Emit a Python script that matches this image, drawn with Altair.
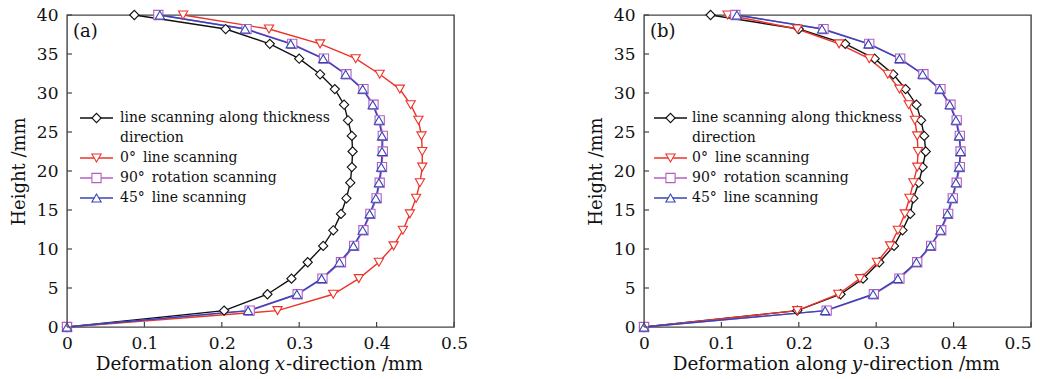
import altair as alt
import pandas as pd

# Heights along the build direction (mm)
HEIGHTS = [0, 2.1, 4.2, 6.2, 8.3, 10.4, 12.4, 14.5, 16.5, 18.5, 20.5,
           22.5, 24.5, 26.5, 28.5, 30.5, 32.4, 34.4, 36.3, 38.2, 40]

SERIES = ["line scanning along thickness direction", "0° line scanning",
          "90° rotation scanning", "45° line scanning"]

# (a) deformation along x-direction (mm)
A_THICK = [0, 0.203, 0.259, 0.290, 0.311, 0.331, 0.344, 0.354, 0.361, 0.366, 0.368,
           0.369, 0.368, 0.363, 0.358, 0.346, 0.327, 0.300, 0.262, 0.205, 0.087]
A_ZERO = [0, 0.272, 0.344, 0.377, 0.403, 0.422, 0.434, 0.443, 0.451, 0.456, 0.459,
          0.459, 0.458, 0.454, 0.444, 0.430, 0.404, 0.373, 0.327, 0.261, 0.150]
A_NINETY = [0, 0.236, 0.298, 0.330, 0.354, 0.371, 0.383, 0.392, 0.400, 0.404, 0.407,
            0.408, 0.408, 0.404, 0.396, 0.383, 0.361, 0.332, 0.291, 0.232, 0.118]
A_FORTYFIVE = [0, 0.234, 0.297, 0.329, 0.352, 0.370, 0.382, 0.391, 0.399, 0.403, 0.406,
               0.407, 0.407, 0.403, 0.395, 0.382, 0.360, 0.331, 0.289, 0.230, 0.120]

# (b) deformation along y-direction (mm)
B_THICK = [0, 0.198, 0.254, 0.283, 0.304, 0.323, 0.334, 0.344, 0.348, 0.355, 0.360,
           0.364, 0.362, 0.358, 0.352, 0.338, 0.322, 0.298, 0.260, 0.200, 0.086]
B_ZERO = [0, 0.198, 0.251, 0.279, 0.301, 0.318, 0.328, 0.337, 0.343, 0.348, 0.353,
          0.354, 0.353, 0.350, 0.342, 0.330, 0.315, 0.291, 0.252, 0.198, 0.108]
B_NINETY = [0, 0.236, 0.297, 0.330, 0.353, 0.371, 0.384, 0.393, 0.399, 0.404, 0.408,
            0.409, 0.408, 0.404, 0.396, 0.383, 0.361, 0.331, 0.291, 0.232, 0.118]
B_FORTYFIVE = [0, 0.234, 0.296, 0.328, 0.352, 0.370, 0.383, 0.392, 0.398, 0.403, 0.407,
               0.409, 0.407, 0.403, 0.395, 0.382, 0.360, 0.330, 0.290, 0.230, 0.120]

X_TICKS = [0, 0.1, 0.2, 0.3, 0.4, 0.5]
Y_TICKS = [0, 5, 10, 15, 20, 25, 30, 35, 40]

LEGEND_LINES = [["line scanning along thickness", "direction"],
                ["0°\u2002line scanning"],
                ["90°\u2002rotation scanning"],
                ["45°\u2002line scanning"]]

COLORS = ["#111111", "#ec3328", "#b45cc4", "#3446b4"]
SHAPES = ["diamond", "triangle-down", "square", "triangle-up"]
WIDTHS = [1.4, 1.4, 1.4, 2.6]

FONT = "DejaVu Serif"
FRAME = "#444444"
W, H = 387, 312

color_scale = alt.Scale(domain=SERIES, range=COLORS)
shape_scale = alt.Scale(domain=SERIES, range=SHAPES)
width_scale = alt.Scale(domain=SERIES, range=WIDTHS)


def long_table(columns):
    rows = []
    for name, xs in zip(SERIES, columns):
        for h, d in zip(HEIGHTS, xs):
            rows.append({"series": name, "d": d, "h": h})
    return pd.DataFrame(rows)


def legend_tables():
    sym, txt = [], []
    row = 0
    for name, lines in zip(SERIES, LEGEND_LINES):
        sym.append({"series": name, "py": 103 + 20 * row})
        for line in lines:
            txt.append({"label": line, "py": 103 + 20 * row})
            row += 1
    return pd.DataFrame(sym), pd.DataFrame(txt)


def panel(columns, tag, letter, sym_left, text_left, last_label_align):
    xs = alt.Scale(domain=[0, 0.5], nice=False, zero=False)
    ys = alt.Scale(domain=[0, 40], nice=False, zero=False)
    data = long_table(columns)

    x_axis = alt.Axis(
        values=X_TICKS, format="~g", title=None,
        labelAlign={"condition": {"test": "datum.value >= 0.5", "value": last_label_align},
                    "value": "center"},
    )
    lines = alt.Chart(data).mark_line().encode(
        x=alt.X("d:Q", scale=xs, axis=x_axis),
        y=alt.Y("h:Q", scale=ys, axis=alt.Axis(values=Y_TICKS, title="Height /mm", labelPadding=9)),
        color=alt.Color("series:N", scale=color_scale, legend=None),
        strokeWidth=alt.StrokeWidth("series:N", scale=width_scale, legend=None),
        order=alt.Order("h:Q"),
    )
    points = alt.Chart(data).mark_point(fill="white", fillOpacity=1, size=85, strokeWidth=1.1).encode(
        x=alt.X("d:Q", scale=xs, axis=None),
        y=alt.Y("h:Q", scale=ys, axis=None),
        stroke=alt.Stroke("series:N", scale=color_scale, legend=None),
        shape=alt.Shape("series:N", scale=shape_scale, legend=None),
    )

    # inward tick marks
    xt = alt.Chart(pd.DataFrame({"v": X_TICKS})).mark_rule(color=FRAME, strokeWidth=1.2).encode(
        x=alt.X("v:Q", scale=xs, axis=None), y=alt.value(H), y2=alt.value(H - 5))
    yt = alt.Chart(pd.DataFrame({"v": Y_TICKS})).mark_rule(color=FRAME, strokeWidth=1.2).encode(
        y=alt.Y("v:Q", scale=ys, axis=None), x=alt.value(0), x2=alt.value(5))

    # legend drawn inside the plot
    sym, txt = legend_tables()
    leg_line = alt.Chart(sym).mark_rule().encode(
        y=alt.Y("py:Q", scale=None, axis=None),
        x=alt.value(sym_left), x2=alt.value(sym_left + 33),
        color=alt.Color("series:N", scale=color_scale, legend=None),
        strokeWidth=alt.StrokeWidth("series:N", scale=width_scale, legend=None),
    )
    leg_pt = alt.Chart(sym).mark_point(fill="white", fillOpacity=1, size=85, strokeWidth=1.1).encode(
        y=alt.Y("py:Q", scale=None, axis=None),
        x=alt.value(sym_left + 16.5),
        stroke=alt.Stroke("series:N", scale=color_scale, legend=None),
        shape=alt.Shape("series:N", scale=shape_scale, legend=None),
    )
    leg_txt = alt.Chart(txt).mark_text(align="left", baseline="middle", font=FONT,
                                       fontSize=14, color="#111111").encode(
        y=alt.Y("py:Q", scale=None, axis=None),
        x=alt.value(text_left),
        text="label:N",
    )

    label = alt.Chart(pd.DataFrame({"t": [tag]})).mark_text(
        align="left", baseline="middle", font=FONT, fontSize=18, color="#111111"
    ).encode(x=alt.value(6), y=alt.value(17), text="t:N")

    # x-axis title with an italic direction letter
    title_parts = alt.Chart(pd.DataFrame({
        "t": ["Deformation along", letter, "-direction /mm"],
        "px": [203, 213, 219],
        "al": ["right", "center", "left"],
    }))
    t1 = title_parts.transform_filter("datum.al == 'right'").mark_text(
        align="right", font=FONT, fontSize=18.4, color="#111111", baseline="alphabetic"
    ).encode(x=alt.X("px:Q", scale=None, axis=None), y=alt.value(H + 43), text="t:N")
    t2 = title_parts.transform_filter("datum.al == 'center'").mark_text(
        align="center", font=FONT, fontSize=18.4, fontStyle="italic", color="#111111",
        baseline="alphabetic"
    ).encode(x=alt.X("px:Q", scale=None, axis=None), y=alt.value(H + 43), text="t:N")
    t3 = title_parts.transform_filter("datum.al == 'left'").mark_text(
        align="left", font=FONT, fontSize=18.4, color="#111111", baseline="alphabetic"
    ).encode(x=alt.X("px:Q", scale=None, axis=None), y=alt.value(H + 43), text="t:N")

    return alt.layer(lines, points, xt, yt, leg_line, leg_pt, leg_txt, label, t1, t2, t3).resolve_scale(
        x="independent", y="independent"
    ).properties(width=W, height=H)


left = panel([A_THICK, A_ZERO, A_NINETY, A_FORTYFIVE], "(a)", "x", 13, 53, "center")
right = panel([B_THICK, B_ZERO, B_NINETY, B_FORTYFIVE], "(b)", "y", 10, 48, "right")

chart = alt.hconcat(left, right, spacing=117).configure(
    padding={"left": 9, "top": 5, "right": 8, "bottom": 2},
    background="white",
).configure_view(
    stroke=FRAME, strokeWidth=1.4
).configure_axis(
    domain=False, ticks=False, grid=False, labelFlush=False,
    labelFont=FONT, labelFontSize=17, labelColor="#111111", labelPadding=8,
    titleFont=FONT, titleFontSize=18, titleFontWeight="normal", titleColor="#111111",
    titlePadding=8,
)

chart.save("out.html", embed_options={"renderer": "svg", "actions": False})
